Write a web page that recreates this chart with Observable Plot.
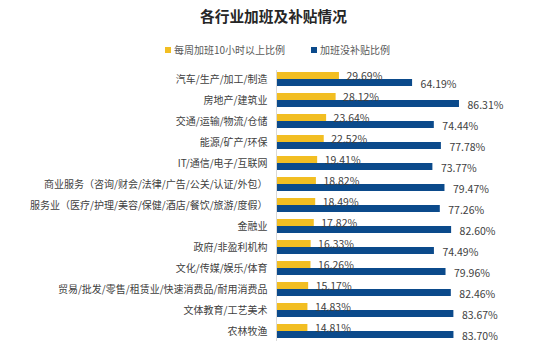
<!DOCTYPE html>
<html>
<head>
<meta charset="utf-8">
<script src="https://cdn.jsdelivr.net/npm/d3@7"></script>
<script src="https://cdn.jsdelivr.net/npm/@observablehq/plot@0.6"></script>
<style>
  body { margin: 0; background: #fff; font-family: "Noto Sans CJK SC", "Noto Sans", sans-serif; }
  #wrap { width: 553px; height: 356px; position: relative; overflow: hidden; }
  #title { position: absolute; left: 0; top: 0; width: 547px; height: 32px; line-height: 32px; text-align: center;
           font-weight: bold; font-size: 14.7px; color: #262626; }
  .leg { position: absolute; top: 42px; height: 16px; line-height: 16px; font-size: 10px; color: #595959; white-space: nowrap; }
  .sw { display: inline-block; width: 6px; height: 6px; margin-right: 3px; vertical-align: 1px; }
  #chart { position: absolute; left: 0; top: 60px; }
</style>
</head>
<body>
<div id="wrap">
  <div id="title">各行业加班及补贴情况</div>
  <div class="leg" style="left:165px"><span class="sw" style="background:#F2BE22"></span>每周加班10小时以上比例</div>
  <div class="leg" style="left:311px"><span class="sw" style="background:#0B4A8B"></span>加班没补贴比例</div>
  <div id="chart"></div>
</div>
<script>
const categories = [
  "汽车/生产/加工/制造",
  "房地产/建筑业",
  "交通/运输/物流/仓储",
  "能源/矿产/环保",
  "IT/通信/电子/互联网",
  "商业服务（咨询/财会/法律/广告/公关/认证/外包）",
  "服务业（医疗/护理/美容/保健/酒店/餐饮/旅游/度假）",
  "金融业",
  "政府/非盈利机构",
  "文化/传媒/娱乐/体育",
  "贸易/批发/零售/租赁业/快速消费品/耐用消费品",
  "文体教育/工艺美术",
  "农林牧渔"
];
const overtime = [29.69, 28.12, 23.64, 22.52, 19.41, 18.82, 18.49, 17.82, 16.33, 16.26, 15.17, 14.83, 14.81];
const noSubsidy = [64.19, 86.31, 74.44, 77.78, 73.77, 79.47, 77.26, 82.60, 74.49, 79.96, 82.46, 83.67, 83.70];

const yellowData = categories.map((c, i) => ({cat: c, v: overtime[i]}));
const blueData = categories.map((c, i) => ({cat: c, v: noSubsidy[i]}));
const fmt = d => d.v.toFixed(2) + "%";

const chart = Plot.plot({
  width: 553,
  height: 296,
  marginLeft: 276,
  marginRight: 65,
  marginTop: 4,
  marginBottom: 11,
  style: {fontFamily: '"Noto Sans CJK SC", "Noto Sans", sans-serif', fontSize: "10px", background: "transparent"},
  x: {domain: [0, 100], axis: null},
  y: {domain: categories, padding: 0.336, label: null},
  marks: [
    Plot.barX(yellowData, {x: "v", y: "cat", fill: "#F2BE22", insetBottom: 7}),
    Plot.barX(blueData, {x: "v", y: "cat", fill: "#0B4A8B", insetTop: 7}),
    Plot.ruleX([0], {stroke: "#d9d9d9", strokeWidth: 1, insetTop: 6, insetBottom: 4}),
    Plot.text(yellowData, {x: "v", y: "cat", text: fmt, dx: 7, dy: -3, textAnchor: "start", fill: "#404040", fontSize: 10.5}),
    Plot.text(blueData, {x: "v", y: "cat", text: fmt, dx: 8, dy: 5, textAnchor: "start", fill: "#404040", fontSize: 10.5}),
    Plot.axisY({tickSize: 0, tickPadding: 9, fontSize: 10, color: "#404040", label: null})
  ]
});
document.getElementById("chart").appendChild(chart);
</script>
</body>
</html>
